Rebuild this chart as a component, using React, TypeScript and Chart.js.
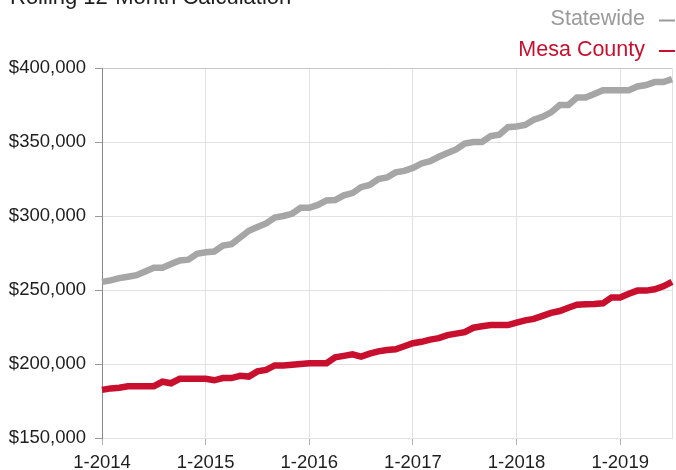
import React, { useEffect, useRef } from 'react';
import { Chart, registerables } from 'chart.js';

Chart.register(...registerables);

const chartTitle = 'Rolling 12-Month Calculation';
const seriesNames = ['Statewide', 'Mesa County'];
const seriesColors = ['#a6a6a6', '#c8102e'];
const legendTextColors = ['#9a9a9a', '#c8102e'];
const legendDashColors = ['#9a9a9a', '#c8102e'];

const years = ['2014', '2015', '2016', '2017', '2018', '2019'];
const monthNums = ['1', '2', '3', '4', '5', '6', '7', '8', '9', '10', '11', '12'];
const lastMonthCount = 7; // Jan–Jul 2019

const monthLabels: string[] = [];
years.forEach((y, yi) => {
  const n = yi === years.length - 1 ? lastMonthCount : 12;
  for (let m = 0; m < n; m++) monthLabels.push(monthNums[m] + '-' + y);
});

const statewide = [
  255500, 256500, 258000, 259000, 260000, 262500, 265000, 265000, 267500, 270000, 270500, 274500,
  275500, 276000, 280000, 281000, 285500, 290000, 292500, 295000, 299000, 300000, 301500, 305500,
  305500, 307500, 310500, 310800, 314000, 315500, 319500, 321000, 325000, 326000, 329500, 330500,
  332500, 335500, 337000, 340000, 342500, 345000, 349000, 350000, 350000, 354000, 355000, 360000,
  360500, 361500, 365000, 367000, 370000, 375000, 375000, 380000, 380000, 382500, 385000, 385000,
  385000, 385000, 387500, 388500, 390500, 390500, 392500,
];

const mesaCounty = [
  182500, 183500, 184000, 185000, 185000, 185000, 185000, 188000, 187000, 190000, 190000, 190000,
  190000, 189000, 190500, 190500, 192000, 191500, 195000, 196000, 199000, 199000, 199500, 200000,
  200500, 200500, 200500, 204500, 205500, 206500, 205000, 207000, 208500, 209500, 210000, 212000,
  214000, 215000, 216500, 217500, 219500, 220500, 221500, 224500, 225500, 226300, 226300, 226300,
  228000, 229500, 230500, 232500, 234500, 235800, 238000, 240000, 240300, 240500, 241000, 245000,
  245000, 247500, 249600, 249600, 250500, 252500, 255500,
];

const yMin = 150000;
const yMax = 400000;
const yStep = 50000;

const FONT = '"Liberation Sans", Arial, Helvetica, sans-serif';

const headerPlugin = {
  id: 'headerPlugin',
  afterDraw(chart: any) {
    const ctx = chart.ctx;
    ctx.save();
    ctx.font = `22px ${FONT}`;
    ctx.fillStyle = '#1e1e1e';
    ctx.textAlign = 'left';
    ctx.textBaseline = 'alphabetic';
    ctx.fillText(chartTitle, 10, 4);

    ctx.font = `21.5px ${FONT}`;
    ctx.textAlign = 'right';
    const baselines = [25, 55.5];
    seriesNames.forEach((name, i) => {
      ctx.fillStyle = legendTextColors[i];
      ctx.fillText(name, 645, baselines[i]);
      ctx.strokeStyle = legendDashColors[i];
      ctx.lineWidth = 2;
      ctx.beginPath();
      ctx.moveTo(659, baselines[i] - 4.5);
      ctx.lineTo(675, baselines[i] - 4.5);
      ctx.stroke();
    });
    ctx.restore();
  },
};

export default function App() {
  const canvasRef = useRef<HTMLCanvasElement | null>(null);

  useEffect(() => {
    if (!canvasRef.current) return;
    const chart = new Chart(canvasRef.current, {
      type: 'line',
      data: {
        labels: monthLabels,
        datasets: [
          {
            label: seriesNames[0],
            data: statewide,
            borderColor: seriesColors[0],
            backgroundColor: seriesColors[0],
            borderWidth: 6.5,
            pointRadius: 0,
            tension: 0,
            borderJoinStyle: 'miter',
          },
          {
            label: seriesNames[1],
            data: mesaCounty,
            borderColor: seriesColors[1],
            backgroundColor: seriesColors[1],
            borderWidth: 6.5,
            pointRadius: 0,
            tension: 0,
            borderJoinStyle: 'miter',
          },
        ],
      },
      options: {
        animation: false,
        responsive: false,
        layout: { padding: { top: 68, right: 4, left: 0, bottom: 0 } },
        plugins: {
          legend: { display: false },
          title: { display: false },
          tooltip: { enabled: false },
        },
        scales: {
          x: {
            type: 'category',
            offset: false,
            afterFit(scale: any) {
              scale.height = 32;
              scale.paddingRight = 0;
            },
            grid: {
              color: (c: any) =>
                c.index % 12 === 0 || c.index === monthLabels.length - 1 ? '#e2e2e2' : 'rgba(0,0,0,0)',
              tickColor: (c: any) => (c.index % 12 === 0 ? '#b0b0b0' : 'rgba(0,0,0,0)'),
              tickLength: 7,
              lineWidth: 1,
            },
            border: { color: '#e2e2e2', width: 1 },
            ticks: {
              autoSkip: false,
              maxRotation: 0,
              minRotation: 0,
              padding: 7,
              color: '#1e1e1e',
              font: { family: FONT, size: 18.5 },
              callback: (_v: any, i: number) => (i % 12 === 0 ? monthLabels[i] : ''),
            },
          },
          y: {
            min: yMin,
            max: yMax,
            afterFit(scale: any) {
              scale.width = 102;
            },
            grid: {
              color: (c: any) => (c.tick && c.tick.value === yMax ? '#c8c8c8' : '#e2e2e2'),
              tickColor: '#9a9a9a',
              tickLength: 7,
            },
            border: { color: '#8a8a8a', width: 1 },
            ticks: {
              stepSize: yStep,
              padding: 9,
              color: '#1e1e1e',
              font: { family: FONT, size: 18.5 },
              callback: (v: any) => '$' + Number(v).toLocaleString('en-US'),
            },
          },
        },
      },
      plugins: [headerPlugin],
    } as any);
    return () => chart.destroy();
  }, []);

  return (
    <div style={{ position: 'fixed', left: 0, top: 0, width: 676, height: 470, background: '#fff' }}>
      <canvas ref={canvasRef} width={676} height={470} style={{ width: 676, height: 470, display: 'block' }} />
    </div>
  );
}
